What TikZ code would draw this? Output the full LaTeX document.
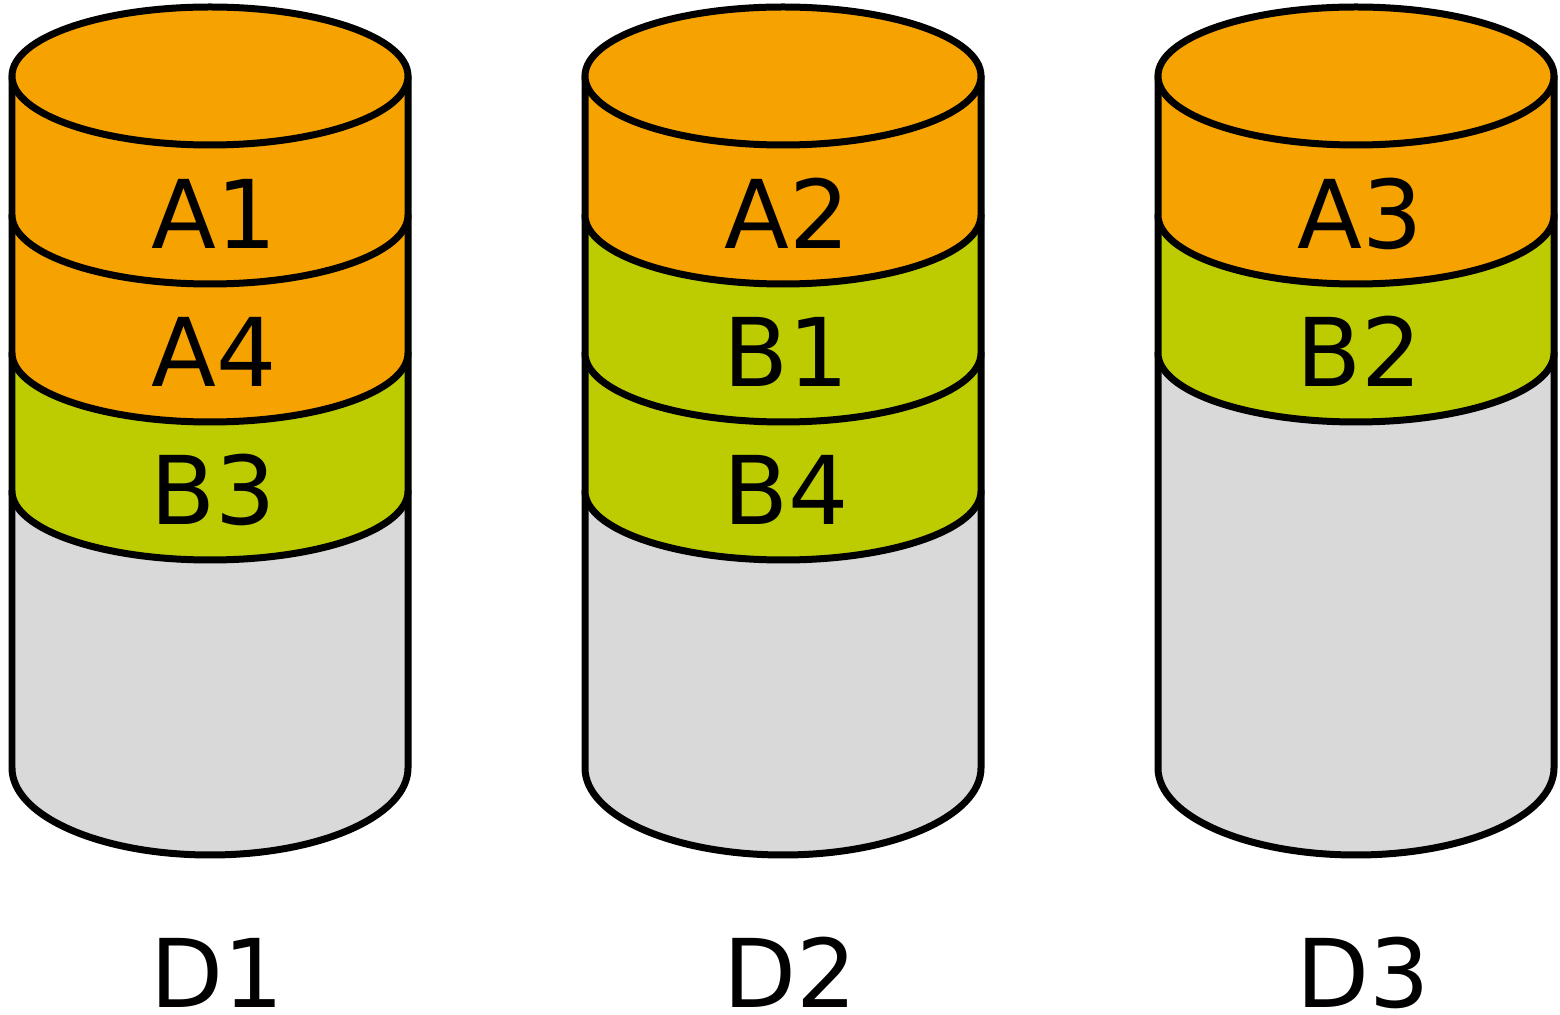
\documentclass[tikz,border=0pt]{standalone}
\usepackage{fontspec}
\setmainfont{DejaVu Sans}
\usepackage{xcolor}
\usepackage{tikz}
\definecolor{bandA}{HTML}{F6A200}
\definecolor{bandB}{HTML}{BDCC00}
\definecolor{bandE}{HTML}{D9D9D9}
\tikzset{
	band/.style={draw=black, line width=0.14cm, line join=round},
	lbl/.style={inner sep=0pt, anchor=base, font=\fontsize{54}{60}\selectfont},
}
\begin{document}
\begin{tikzpicture}[x=0.02cm, y=0.02cm]
			
			\def\rx{198}
			\def\ry{69}
			
			\useasboundingbox (0,0) rectangle (1560,1015);
			
			\foreach \xc/\n/\ytop/\bands in {210/1/524/{524/662/bandB, 662/800/bandA, 800/939/bandA}, 783/2/524/{524/662/bandB, 662/800/bandB, 800/939/bandA}, 1356/3/662/{662/800/bandB, 800/939/bandA}} {
				% empty part of the disk
				\draw[band, fill=bandE] (\xc-\rx, 247) arc (180:360:\rx cm*0.02 and 87 cm*0.02) -- (\xc+\rx, \ytop) -- (\xc-\rx, \ytop) -- cycle;
				
				\foreach \ya/\yb/\col in \bands
				\draw[band, fill=\col] (\xc-\rx, \ya) arc (180:360:\rx cm*0.02 and \ry cm*0.02) -- (\xc+\rx, \yb) -- (\xc-\rx, \yb) -- cycle;
				
				% top of the disk
				\draw[band, fill=bandA] (\xc, 939) ellipse ({\rx cm*0.02} and {\ry cm*0.02});
				
				\node[lbl] (D\n) at (\xc+7, 7) {D\n};
			}
			
			\node[lbl] (A1) at (214, 766) {A1};
			\node[lbl] (A4) at (214, 628) {A4};
			\node[lbl] (B3) at (213, 490) {B3};
			\node[lbl] (A2) at (787, 766) {A2};
			\node[lbl] (B1) at (786, 628) {B1};
			\node[lbl] (B4) at (786, 490) {B4};
			\node[lbl] (A3) at (1360, 766) {A3};
			\node[lbl] (B2) at (1359, 628) {B2};
			
\end{tikzpicture}
\end{document}
